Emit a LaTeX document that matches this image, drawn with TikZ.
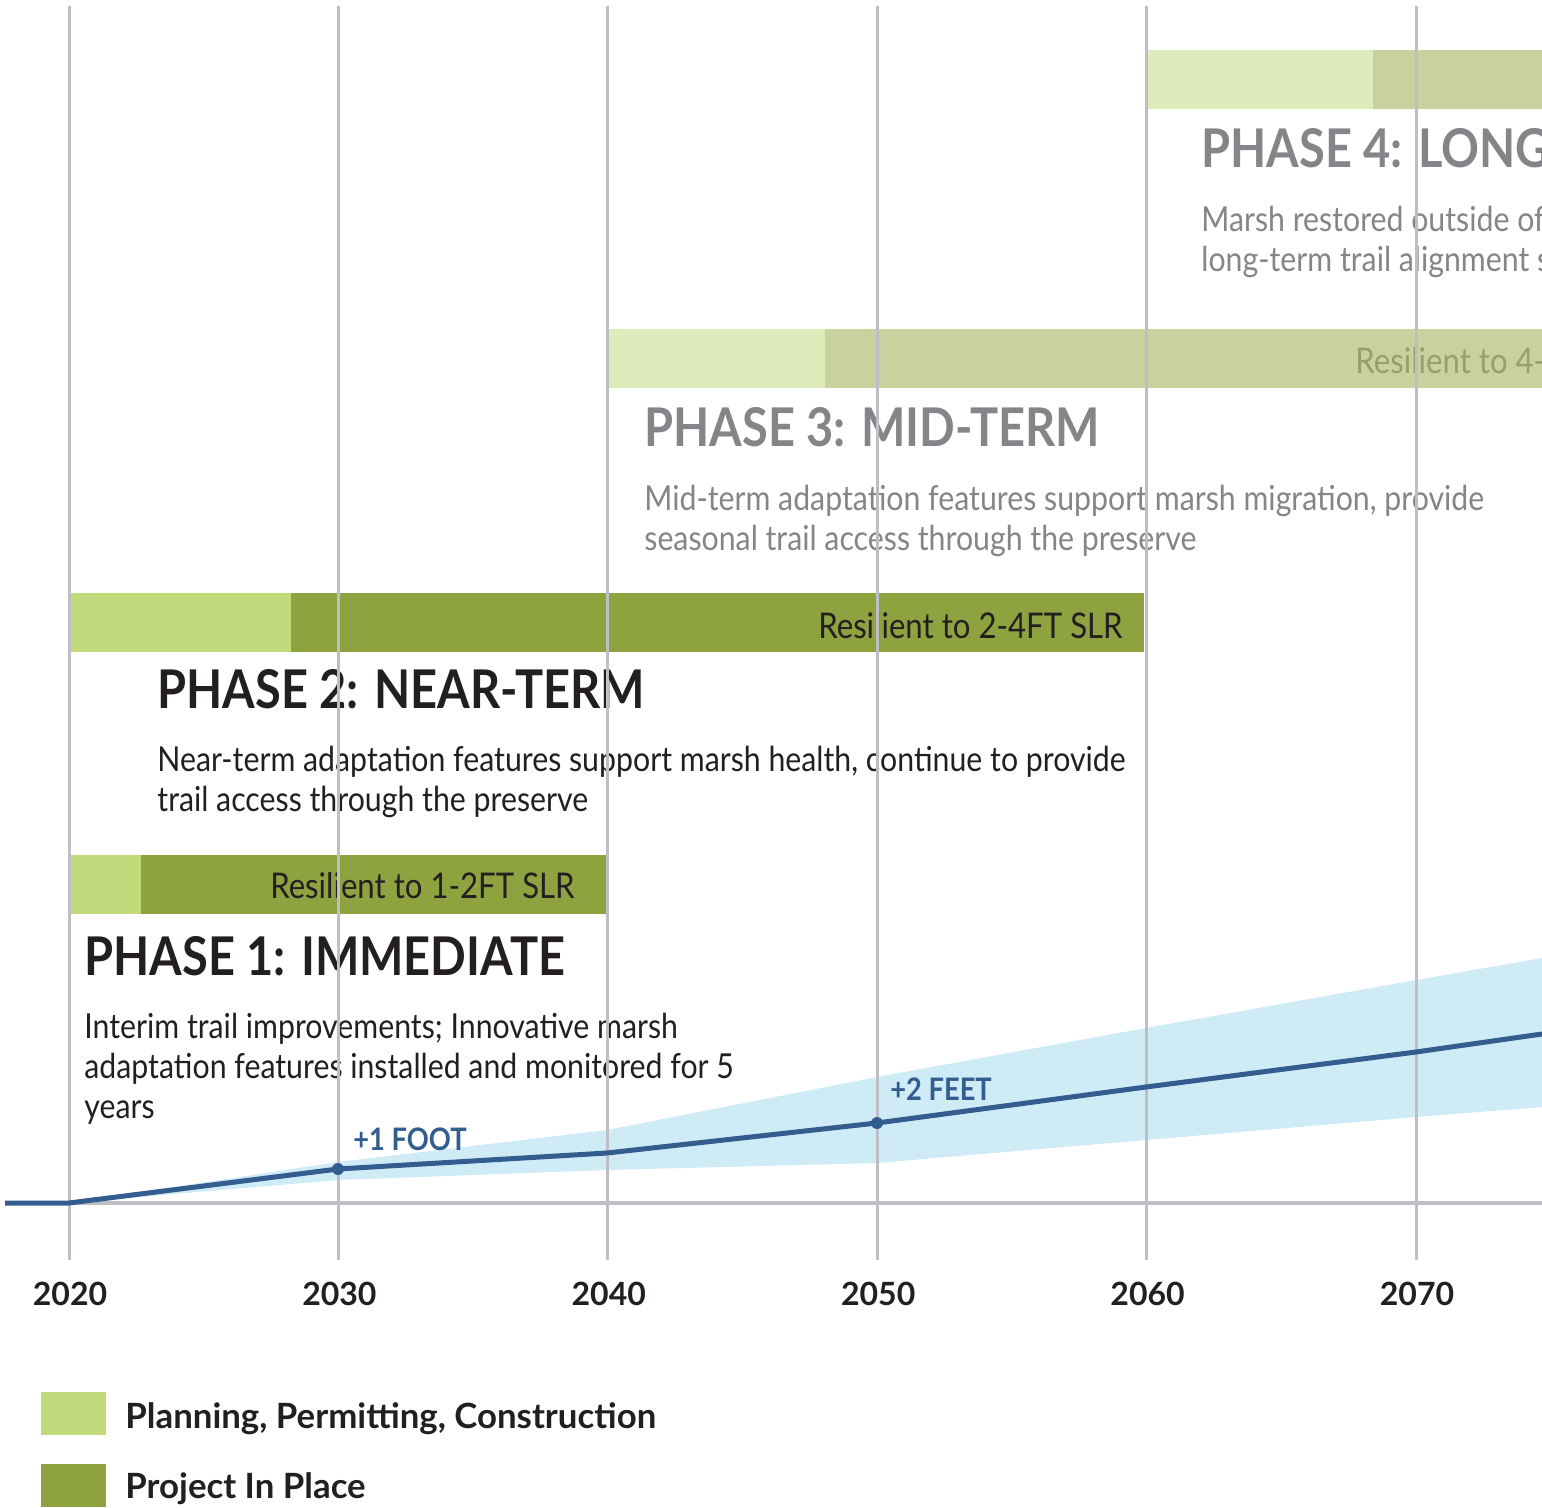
\documentclass[tikz,border=0pt]{standalone}
\usepackage{fontspec}
\setmainfont{Lato}
\newfontfamily\narrowfont[FakeStretch=0.88]{Lato}
\usepackage{tikz}
\usetikzlibrary{positioning}
\definecolor{PlanGreen}{RGB}{192,218,124}
\definecolor{PlaceGreen}{RGB}{142,162,64}
\definecolor{PlanFade}{RGB}{222,235,187}
\definecolor{PlaceFade}{RGB}{200,210,158}
\definecolor{GridGray}{RGB}{190,190,196}
\definecolor{SlrBlue}{RGB}{52,93,143}
\definecolor{BandBlue}{RGB}{206,235,246}
\definecolor{InkDark}{RGB}{35,31,32}
\definecolor{InkGray}{RGB}{132,132,137}
\definecolor{InkFade}{RGB}{150,160,110}
\tikzset{
  gridline/.style={GridGray,line width=1.5pt},
  title/.style={anchor=base west,inner sep=0pt,font=\narrowfont\fontsize{26.7}{30}\selectfont\bfseries},
  body/.style={anchor=base west,inner sep=0pt,align=left,font=\narrowfont\fontsize{17.2}{20}\selectfont},
  bartext/.style={anchor=base east,inner sep=0pt,font=\narrowfont\fontsize{17.7}{20}\selectfont},
  yearlabel/.style={anchor=base,inner sep=0pt,InkDark,font=\fontsize{16}{18}\selectfont\bfseries},
  slrlabel/.style={anchor=base west,inner sep=0pt,SlrBlue,font=\narrowfont\fontsize{15.5}{18}\selectfont\bfseries},
  legendtext/.style={anchor=base west,inner sep=0pt,InkDark,font=\fontsize{17.4}{20}\selectfont\bfseries},
  slrdot/.style={circle,fill=SlrBlue,inner sep=0pt,minimum size=6pt}
}

\begin{document}
\begin{tikzpicture}[x=0.5pt,y=-0.5pt]
\useasboundingbox (0,0) rectangle (1542,1508);
\clip (0,0) rectangle (1542,1508);
%
% phase 4 (body nodes sit on the baseline of their last line)
\fill[PlanFade] (1147,50) rectangle (1373,109);
\fill[PlaceFade] (1373,50) rectangle (1542,109);
\node[title,InkGray] (ph4) at (1201,168) {PHASE 4: LONG-TERM};
\node[body,InkGray] (ph4txt) at (1201,272) {Marsh restored outside of the\\long-term trail alignment supports};
%
% phase 3
\fill[PlanFade] (607,329) rectangle (825,388);
\fill[PlaceFade] (825,329) rectangle (1542,388);
\node[bartext,InkFade,anchor=base west] (ph3bar) at (1355,374) {Resilient to 4-};
\node[title,InkGray] (ph3) at (644,447) {PHASE 3: MID-TERM};
\node[body,InkGray] (ph3txt) at (644,550) {Mid-term adaptation features support marsh migration, provide\\seasonal trail access through the preserve};
%
% phase 2
\fill[PlanGreen] (71,593) rectangle (291,652);
\fill[PlaceGreen] (291,593) rectangle (1144,652);
\node[bartext,InkDark] (ph2bar) at (1123,638) {Resilient to 2-4FT SLR};
\node[title,InkDark] (ph2) at (157,708) {PHASE 2: NEAR-TERM};
\node[body,InkDark] (ph2txt) at (157,811) {Near-term adaptation features support marsh health, continue to provide\\trail access through the preserve};
%
% phase 1
\fill[PlanGreen] (71,855) rectangle (141,914);
\fill[PlaceGreen] (141,855) rectangle (606,914);
\node[bartext,InkDark] (ph1bar) at (575,898) {Resilient to 1-2FT SLR};
\node[title,InkDark] (ph1) at (84,975) {PHASE 1: IMMEDIATE};
\node[body,InkDark] (ph1txt) at (84,1118) {Interim trail improvements; Innovative marsh\\adaptation features installed and monitored for 5\\years};
%
% sea level rise range
\fill[BandBlue] (69,1203) -- (338,1162) -- (607,1130) -- (877,1077) -- (1146,1028)
  -- (1416,980) -- (1542,958) -- (1542,1107) -- (1416,1117) -- (1146,1140)
  -- (877,1163) -- (607,1170) -- (338,1180) -- cycle;
\draw[GridGray,line width=1.6pt] (5,1203) -- (1542,1203);
%
% decades
\foreach \yr [count=\i from 0] in {2020,2030,2040,2050,2060,2070} {
  \draw[gridline] (69+269.4*\i,6) -- (69+269.4*\i,1260);
  \node[yearlabel] (yr\yr) at (70+269.4*\i,1305) {\yr};
}
%
% projected sea level
\coordinate (s2010) at (5,1203);
\coordinate (s2020) at (69,1203);
\coordinate (s2040) at (607,1153);
\coordinate (s2060) at (1146,1087);
\coordinate (s2070) at (1416,1052);
\coordinate (s2075) at (1542,1034);
\node[slrdot] (s2030) at (338,1169) {};
\node[slrdot] (s2050) at (877,1123) {};
\draw[SlrBlue,line width=2.5pt,line join=round] (s2010) -- (s2020) -- (s2030.center) -- (s2040)
  -- (s2050.center) -- (s2060) -- (s2070) -- (s2075);
\node[slrlabel] (foot1) at (353,1150) {+1 FOOT};
\node[slrlabel] (feet2) at (890,1100) {+2 FEET};
%
% legend
\fill[PlanGreen] (41,1392) rectangle (106,1435);
\fill[PlaceGreen] (41,1464) rectangle (106,1507);
\node[legendtext] (lgplan) at (125,1428) {Planning, Permitting, Construction};
\node[legendtext] (lgplace) at (125,1498) {Project In Place};
\end{tikzpicture}
\end{document}
